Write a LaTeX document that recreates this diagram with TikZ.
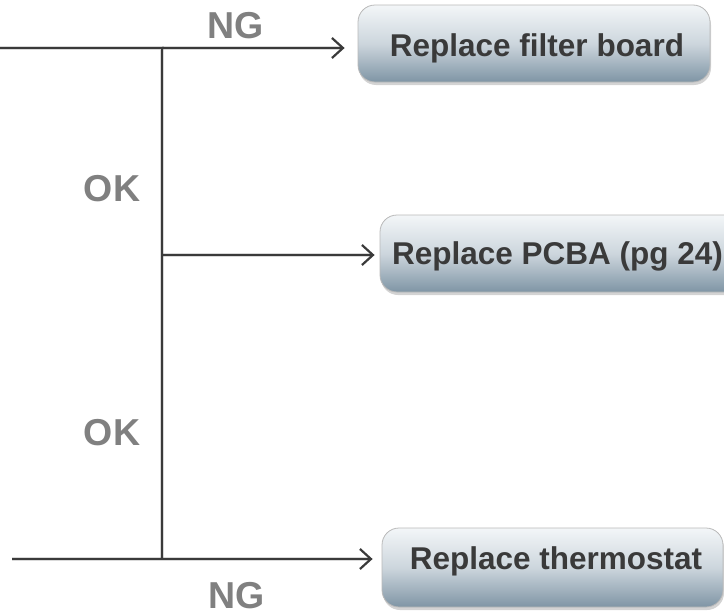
\documentclass[tikz,border=0pt]{standalone}
\usepackage{fontspec}
\setmainfont{Liberation Sans}
\usetikzlibrary{arrows.meta,shadows}
\definecolor{linec}{HTML}{3A3A3A}
\definecolor{labc}{HTML}{808080}
\definecolor{txtc}{HTML}{3A3A3A}
\definecolor{boxtop}{HTML}{F3F6F8}
\definecolor{boxmid}{HTML}{CDD6DD}
\definecolor{boxbot}{HTML}{7F95A5}
\tikzset{
  conn/.style={draw=linec, line width=2.4pt},
  connshadow/.style={draw=black, opacity=0.15, line width=4pt},
  arrowc/.style={conn, -{Straight Barb[length=11pt,width=20pt,line width=2.2pt]}},
  boxc/.style={draw=gray!55, line width=0.8pt, rounded corners=17pt,
    top color=boxtop, bottom color=boxbot, middle color=boxmid,
    drop shadow={shadow xshift=1pt, shadow yshift=-3pt, opacity=0.35, fill=gray},
    inner sep=0pt},
  boxtext/.style={font=\bfseries\fontsize{31.5}{32}\selectfont, text=txtc, inner sep=0pt},
  lab/.style={font=\bfseries\fontsize{37.5}{38}\selectfont, text=labc, inner sep=0pt}
}
\begin{document}
\begin{tikzpicture}[x=1pt,y=-1pt]
\useasboundingbox (0,0) rectangle (724,616);
\clip (0,0) rectangle (724,616);
% boxes
\node[boxc, minimum width=352pt, minimum height=77pt] (b1) at (534,43.5) {};
\node[boxc, minimum width=380pt, minimum height=77pt] (b2) at (570,253.5) {};
\node[boxc, minimum width=341pt, minimum height=79pt] (b3) at (552.5,567.5) {};
\node[boxtext] (t1) at (537,48) {Replace filter board};
\node[boxtext, anchor=west] (t2) at (392,256) {Replace PCBA (pg 24)};
\node[boxtext] (t3) at (556,561) {Replace thermostat};
% coordinates
\coordinate (s1) at (0,48);
\coordinate (j1) at (162,48);
\coordinate (j2) at (162,255);
\coordinate (j3) at (162,559);
\coordinate (s3) at (12,559);
% shadows of lines
\begin{scope}[yshift=-3pt]
\draw[connshadow] (s1) -- (j1) -- (j3);
\draw[connshadow] (j1) -- ([xshift=-16pt]b1.west |- j1);
\draw[connshadow] (j2) -- ([xshift=-8pt]b2.west |- j2);
\draw[connshadow] (s3) -- (j3) -- ([xshift=-12pt]b3.west |- j3);
\end{scope}
% lines
\draw[conn] (s1) -- (j1) -- (j3);
\draw[conn] (s3) -- (j3);
\draw[arrowc, shorten >=13pt] (j1) -- (b1.west |- j1);
\draw[arrowc, shorten >=5pt] (j2) -- (b2.west |- j2);
\draw[arrowc, shorten >=9pt] (j3) -- (b3.west |- j3);
% labels
\node[lab] (ng1) at (236,26) {NG};
\node[lab] (ok1) at (112,189) {OK};
\node[lab] (ok2) at (112,433) {OK};
\node[lab] (ng2) at (237,596) {NG};
\end{tikzpicture}
\end{document}
